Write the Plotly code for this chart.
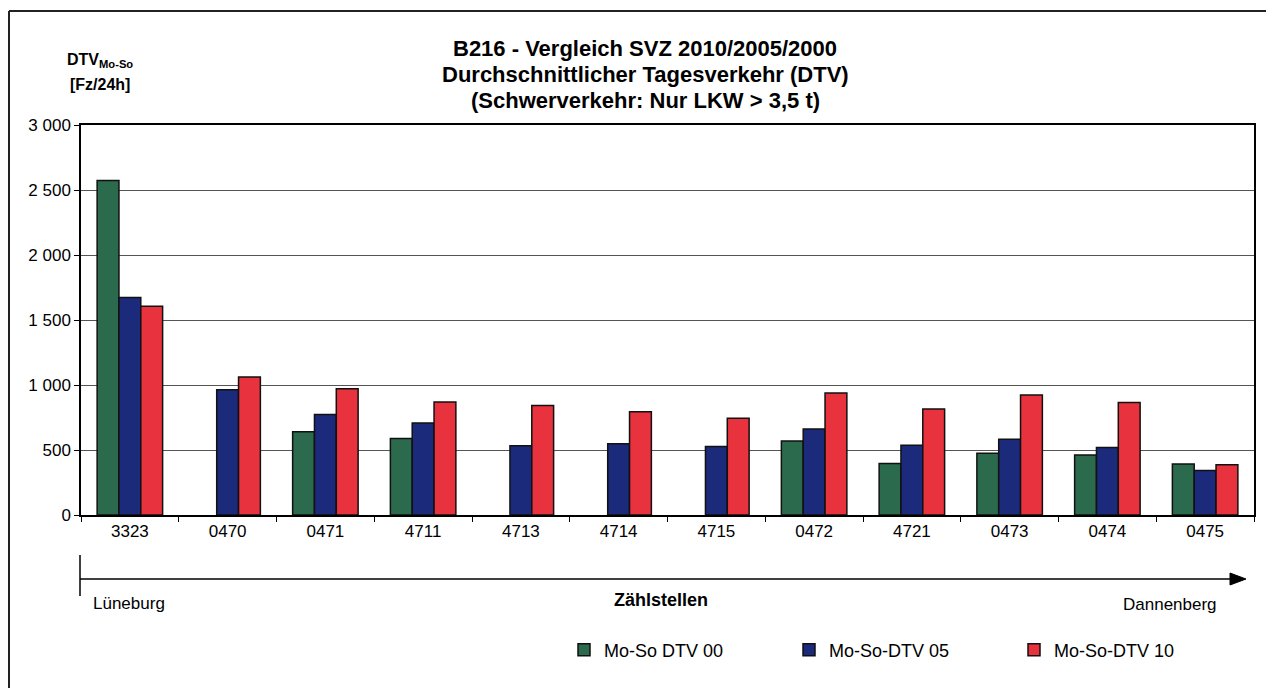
import plotly.graph_objects as go

categories = ["3323", "0470", "0471", "4711", "4713", "4714", "4715", "0472", "4721", "0473", "0474", "0475"]
dtv_00 = [2573, None, 641, 588, None, None, None, 570, 397, 475, 461, 392]
dtv_05 = [1673, 963, 773, 708, 533, 548, 526, 662, 536, 583, 519, 343]
dtv_10 = [1605, 1062, 971, 870, 842, 794, 745, 938, 815, 923, 866, 387]
series_names = ["Mo-So DTV 00", "Mo-So-DTV 05", "Mo-So-DTV 10"]
colors = ["#2b6a4c", "#1c2a7c", "#e8323e"]
y_ticks = [0, 500, 1000, 1500, 2000, 2500, 3000]

# page body has an 8px margin; compensate so positions match the 1274x688 window
OFF = 8
W, H = 1274 - OFF, 688 - OFF
L, R, T, B = 81, 1254, 125, 515  # plot area in window coordinates


def px(x):
    return (x - L) / (R - L)


def py(y):
    return (B - y) / (B - T)


FONT = "Liberation Sans, Arial, sans-serif"

fig = go.Figure()
for name, vals, col in zip(series_names, [dtv_00, dtv_05, dtv_10], colors):
    fig.add_trace(go.Bar(
        x=categories, y=vals, name=name,
        marker=dict(color=col, line=dict(color="#111111", width=1.5)),
    ))

fig.update_layout(
    width=W, height=H,
    margin=dict(l=L - OFF, r=1274 - R, t=T - OFF, b=688 - B, pad=0, autoexpand=False),
    paper_bgcolor="white", plot_bgcolor="white",
    barmode="group", bargap=0.33, bargroupgap=0,
    separators=", ",
    font=dict(family=FONT, size=17, color="black"),
    showlegend=True,
    legend=dict(
        orientation="h", x=px(564), y=py(650), xanchor="left", yanchor="middle",
        entrywidth=180, entrywidthmode="pixels",
        font=dict(family=FONT, size=18, color="black"),
        itemwidth=30, bgcolor="rgba(0,0,0,0)",
    ),
)

fig.update_xaxes(
    type="category", showline=True, linecolor="black", linewidth=1.5, mirror=True,
    ticks="outside", tickson="boundaries", ticklen=5, tickcolor="black",
    tickfont=dict(family=FONT, size=17), showgrid=False,
)
fig.update_yaxes(
    range=[0, 3000], tickvals=y_ticks, tickformat=",d",
    showline=True, linecolor="black", linewidth=1.5, mirror=True,
    ticks="outside", ticklen=5, tickcolor="black",
    showgrid=True, gridcolor="#555555", gridwidth=1,
    tickfont=dict(family=FONT, size=17), zeroline=False,
)

# Title lines
for text, yy in [("B216 - Vergleich SVZ 2010/2005/2000", 48),
                 ("Durchschnittlicher Tagesverkehr (DTV)", 74),
                 ("(Schwerverkehr: Nur LKW > 3,5 t)", 100)]:
    fig.add_annotation(text="<b>" + text + "</b>", x=px(645), y=py(yy), xref="paper", yref="paper",
                       showarrow=False, xanchor="center", yanchor="middle",
                       font=dict(family=FONT, size=22, color="black"))

# Y-axis label
fig.add_annotation(text="<b>DTV<sub>Mo-So</sub></b>", x=px(100), y=py(61), xref="paper", yref="paper",
                   showarrow=False, xanchor="center", yanchor="middle",
                   font=dict(family=FONT, size=16, color="black"))
fig.add_annotation(text="<b>[Fz/24h]</b>", x=px(100), y=py(85), xref="paper", yref="paper",
                   showarrow=False, xanchor="center", yanchor="middle",
                   font=dict(family=FONT, size=16, color="black"))

# Direction arrow annotations
fig.add_annotation(text="Lüneburg", x=px(91), y=py(603), xref="paper", yref="paper",
                   showarrow=False, xanchor="left", yanchor="middle",
                   font=dict(family=FONT, size=17, color="black"))
fig.add_annotation(text="<b>Zählstellen</b>", x=px(661), y=py(600), xref="paper", yref="paper",
                   showarrow=False, xanchor="center", yanchor="middle",
                   font=dict(family=FONT, size=18, color="black"))
fig.add_annotation(text="Dannenberg", x=px(1219), y=py(604), xref="paper", yref="paper",
                   showarrow=False, xanchor="right", yanchor="middle",
                   font=dict(family=FONT, size=17, color="black"))

# Arrow line, start tick, arrow head
fig.add_shape(type="line", xref="paper", yref="paper", x0=px(80), x1=px(1234), y0=py(579), y1=py(579),
              line=dict(color="black", width=1.5))
fig.add_shape(type="line", xref="paper", yref="paper", x0=px(80), x1=px(80), y0=py(555), y1=py(596),
              line=dict(color="black", width=1.5))
fig.add_shape(type="path", xref="paper", yref="paper",
              path=f"M {px(1230)} {py(573)} L {px(1246)} {py(579)} L {px(1230)} {py(585)} Z",
              fillcolor="black", line=dict(color="black", width=1))

# Outer frame (separate edges)
frame = dict(color="#222222", width=2)
fig.add_shape(type="line", xref="paper", yref="paper", x0=px(9), x1=px(1267), y0=py(11), y1=py(11), line=frame)
fig.add_shape(type="line", xref="paper", yref="paper", x0=px(9), x1=px(9), y0=py(11), y1=py(700), line=frame)
fig.add_shape(type="line", xref="paper", yref="paper", x0=px(1267), x1=px(1267), y0=py(11), y1=py(700), line=frame)

fig.write_html("out.html")
